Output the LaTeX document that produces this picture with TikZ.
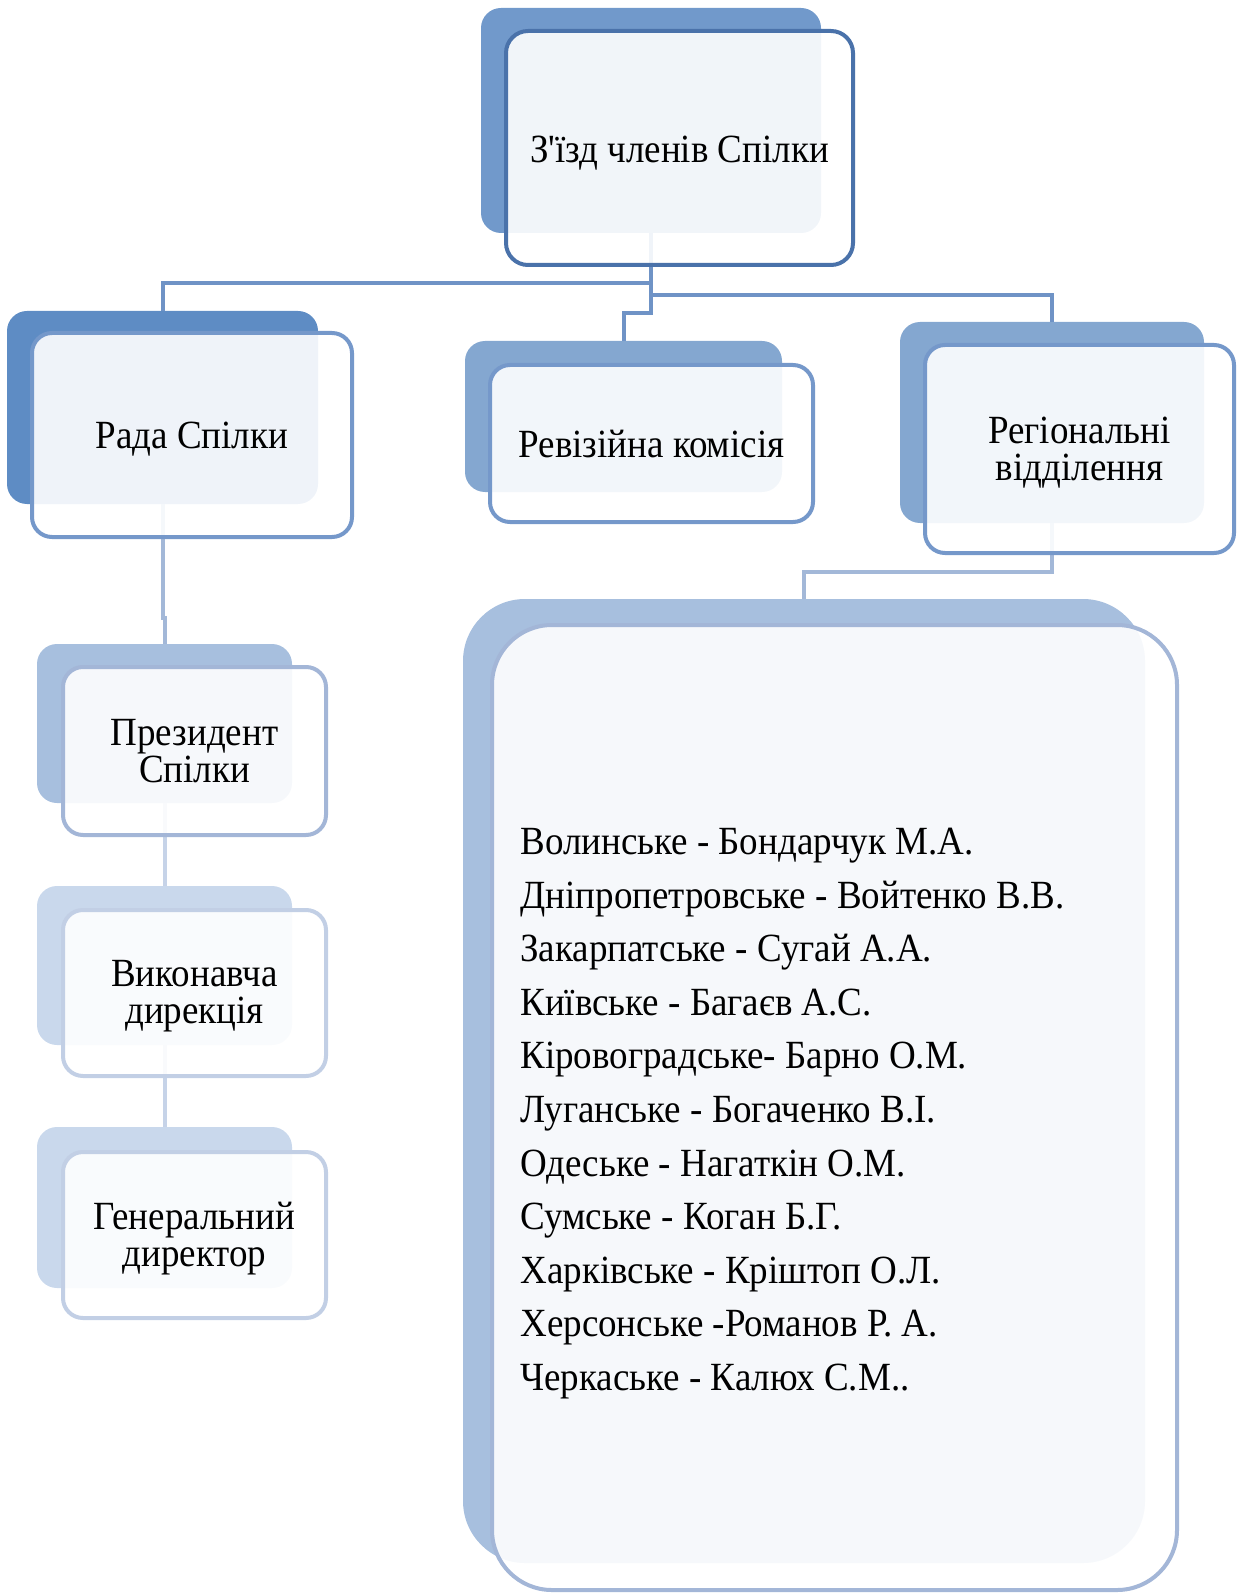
\documentclass[tikz,border=0pt]{standalone}
\usepackage{fontspec}
\setmainfont{Liberation Serif}[Ligatures=TeXOff,FakeStretch=0.925]

\definecolor{lvlA}{HTML}{7199CB}
\definecolor{lvlAline}{HTML}{4A72AA}
\definecolor{lvlB}{HTML}{5E8CC4}
\definecolor{lvlC}{HTML}{84A7D0}
\definecolor{lvlBline}{HTML}{7598CA}
\definecolor{lvlD}{HTML}{A7BFDE}
\definecolor{lvlDline}{HTML}{A3B6D7}
\definecolor{lvlE}{HTML}{C9D8EC}
\definecolor{lvlEline}{HTML}{C2CFE5}
\definecolor{linkA}{HTML}{6F93C6}
\definecolor{linkB}{HTML}{A3B8D8}
\definecolor{linkC}{HTML}{C6D3E8}

\begin{document}
\begin{tikzpicture}
    [
        x=0.5pt,y=-0.5pt,
        every node/.style={font=\fontsize{20}{18.5}\selectfont},
        backbox/.style={fill=#1,rounded corners=10pt,inner sep=0pt},
        frontbox/.style={draw=#1,line width=2pt,fill=white,fill opacity=0.9,
            rounded corners=10pt,inner sep=0pt},
        boxtext/.style={align=center,inner sep=0pt,yshift=#1},
        boxtext/.default=-2pt,
        listtext/.style={align=left,inner sep=0pt,font=\fontsize{20}{26.8}\selectfont},
        link/.style={draw=#1,line width=2pt},
    ]
    \useasboundingbox (0,0) rectangle (1237,1593);
    % The shadow boxes
    \node[backbox=lvlA,minimum width=170pt,minimum height=112.5pt] (zjizdbg) at (651,120.5) {};
    \node[backbox=lvlB,minimum width=155.5pt,minimum height=96.5pt] (radabg) at (162.5,407.5) {};
    \node[backbox=lvlC,minimum width=158.5pt,minimum height=75.5pt] (revkombg) at (623.5,416.5) {};
    \node[backbox=lvlC,minimum width=152pt,minimum height=100.5pt] (regvidbg) at (1052,422.5) {};
    \node[backbox=lvlD,minimum width=127.5pt,minimum height=79.5pt] (prezbg) at (164.5,723.5) {};
    \node[backbox=lvlE,minimum width=127.5pt,minimum height=79.5pt] (vykdyrbg) at (164.5,965.5) {};
    \node[backbox=lvlE,minimum width=127.5pt,minimum height=80.5pt] (gendyrbg) at (164.5,1207.5) {};
    \node[backbox=lvlD,rounded corners=31pt,minimum width=341pt,minimum height=482pt] (oblastibg) at (804,1081) {};
    % The connectors
    \draw[link=linkA] (zjizdbg.south) -- ++(0,50) -| (radabg.north);
    \draw[link=linkA] (zjizdbg.south) -- ++(0,62) -| (regvidbg.north);
    \draw[link=linkA] (zjizdbg.south) -- ++(0,80) -| (revkombg.north);
    \draw[link=linkB] (radabg.south) -- ++(0,114) -| (prezbg.north);
    \draw[link=linkC] (prezbg.south) -- (vykdyrbg.north);
    \draw[link=linkC] (vykdyrbg.south) -- (gendyrbg.north);
    \draw[link=linkB] (regvidbg.south) -- ++(0,49) -| (oblastibg.north);
    % The boxes with text
    \node[frontbox=lvlAline,rounded corners=11pt,minimum width=173.5pt,minimum height=117pt,
        label={[boxtext=-2.5pt]center:З'їзд членів Спілки}] (zjizd) at (679.5,148) {};
    \node[frontbox=lvlBline,minimum width=160pt,minimum height=102pt,
        label={[boxtext]center:Рада Спілки}] (rada) at (192,435) {};
    \node[frontbox=lvlBline,minimum width=161.5pt,minimum height=78.5pt,
        label={[boxtext=-0.5pt]center:Ревізійна комісія}] (revkom) at (651.5,443.5) {};
    \node[frontbox=lvlBline,minimum width=154.5pt,minimum height=104pt,
        label={[boxtext]center:Регіональні\\відділення}] (regvid) at (1079.5,449) {};
    \node[frontbox=lvlDline,minimum width=131.5pt,minimum height=84pt,
        label={[boxtext=0pt]center:Президент\\Спілки}] (prez) at (194.5,751) {};
    \node[frontbox=lvlEline,minimum width=131.5pt,minimum height=83pt,
        label={[boxtext=-1.5pt]center:Виконавча\\дирекція}] (vykdyr) at (194.5,993) {};
    \node[frontbox=lvlEline,minimum width=131.5pt,minimum height=83pt,
        label={[boxtext]center:Генеральний\\директор}] (gendyr) at (194.5,1235) {};
    \node[frontbox=lvlDline,rounded corners=30pt,minimum width=342.5pt,minimum height=482.5pt]
    (oblasti) at (834.5,1107.5) {};
    \node[listtext,anchor=west] (oblastitxt) at ([xshift=15pt,yshift=-3pt]oblasti.west) {%
        Волинське - Бондарчук М.А.\\
        Дніпропетровське - Войтенко В.В.\\
        Закарпатське - Сугай А.А.\\
        Київське - Багаєв А.С.\\
        Кіровоградське- Барно О.М.\\
        Луганське - Богаченко В.І.\\
        Одеське - Нагаткін О.М.\\
        Сумське - Коган Б.Г.\\
        Харківське - Кріштоп О.Л.\\
        Херсонське -Романов Р. А.\\
        Черкаське - Калюх С.М..};
\end{tikzpicture}
\end{document}
